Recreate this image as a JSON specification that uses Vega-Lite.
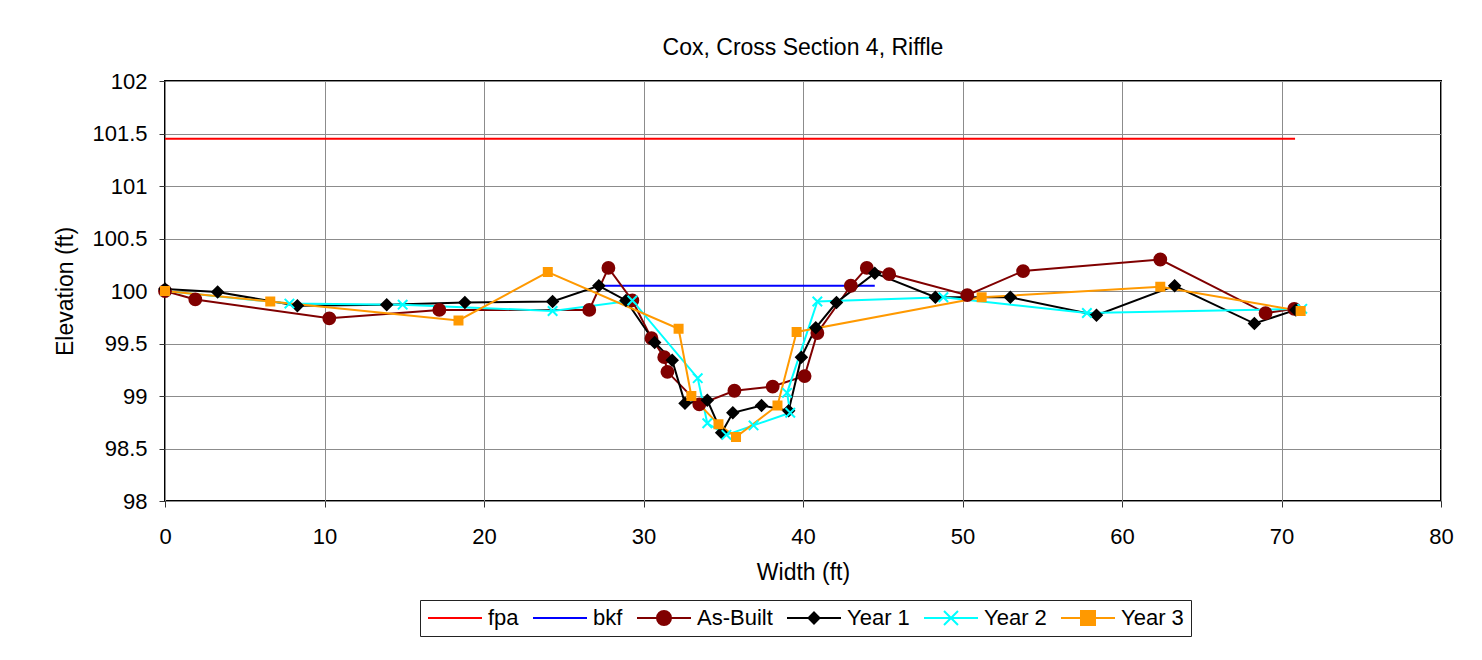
{
  "$schema": "https://vega.github.io/schema/vega-lite/v6.json",
  "autosize": {"type": "none"},
  "padding": {"left": 165, "top": 81, "right": 41, "bottom": 159},
  "width": 1276,
  "height": 420,
  "background": "white",
  "config": {
    "font": "Liberation Sans",
    "view": {"stroke": "black", "strokeWidth": 2},
    "axis": {
      "labelFont": "Liberation Sans",
      "titleFont": "Liberation Sans",
      "labelFontSize": 22,
      "titleFontSize": 23,
      "titleFontWeight": "normal",
      "labelColor": "black",
      "titleColor": "black",
      "gridColor": "#8c8c8c",
      "gridWidth": 1,
      "gridOpacity": 1,
      "tickColor": "#333333",
      "tickSize": 6,
      "tickWidth": 1,
      "domain": false,
      "labelFlush": false
    }
  },
  "title": {
    "text": "Cox, Cross Section 4, Riffle",
    "font": "Liberation Sans",
    "fontSize": 23,
    "fontWeight": "normal",
    "color": "black",
    "anchor": "middle",
    "baseline": "alphabetic",
    "offset": -8
  },
  "data": {
    "values": [
      {"s": "fpa", "i": 0, "x": 0, "y": 101.45},
      {"s": "fpa", "i": 1, "x": 70.85, "y": 101.45},
      {"s": "bkf", "i": 0, "x": 27.5, "y": 100.05},
      {"s": "bkf", "i": 1, "x": 44.5, "y": 100.05},
      {"s": "As-Built", "i": 0, "x": 0, "y": 100.0},
      {"s": "As-Built", "i": 1, "x": 1.9, "y": 99.92},
      {"s": "As-Built", "i": 2, "x": 10.3, "y": 99.74},
      {"s": "As-Built", "i": 3, "x": 17.2, "y": 99.82},
      {"s": "As-Built", "i": 4, "x": 26.6, "y": 99.82},
      {"s": "As-Built", "i": 5, "x": 27.8, "y": 100.22},
      {"s": "As-Built", "i": 6, "x": 29.3, "y": 99.91},
      {"s": "As-Built", "i": 7, "x": 30.5, "y": 99.55},
      {"s": "As-Built", "i": 8, "x": 31.3, "y": 99.37},
      {"s": "As-Built", "i": 9, "x": 31.5, "y": 99.23},
      {"s": "As-Built", "i": 10, "x": 33.5, "y": 98.92},
      {"s": "As-Built", "i": 11, "x": 35.7, "y": 99.05},
      {"s": "As-Built", "i": 12, "x": 38.1, "y": 99.09},
      {"s": "As-Built", "i": 13, "x": 40.1, "y": 99.19},
      {"s": "As-Built", "i": 14, "x": 40.9, "y": 99.6},
      {"s": "As-Built", "i": 15, "x": 43.0, "y": 100.05},
      {"s": "As-Built", "i": 16, "x": 44.0, "y": 100.22},
      {"s": "As-Built", "i": 17, "x": 45.4, "y": 100.16},
      {"s": "As-Built", "i": 18, "x": 50.3, "y": 99.96},
      {"s": "As-Built", "i": 19, "x": 53.8, "y": 100.19},
      {"s": "As-Built", "i": 20, "x": 62.4, "y": 100.3},
      {"s": "As-Built", "i": 21, "x": 69.0, "y": 99.79},
      {"s": "As-Built", "i": 22, "x": 70.8, "y": 99.83},
      {"s": "Year 1", "i": 0, "x": 0, "y": 100.02},
      {"s": "Year 1", "i": 1, "x": 3.3, "y": 99.99},
      {"s": "Year 1", "i": 2, "x": 8.3, "y": 99.86},
      {"s": "Year 1", "i": 3, "x": 13.9, "y": 99.87},
      {"s": "Year 1", "i": 4, "x": 18.8, "y": 99.89},
      {"s": "Year 1", "i": 5, "x": 24.3, "y": 99.9},
      {"s": "Year 1", "i": 6, "x": 27.2, "y": 100.05},
      {"s": "Year 1", "i": 7, "x": 28.9, "y": 99.91},
      {"s": "Year 1", "i": 8, "x": 30.7, "y": 99.51},
      {"s": "Year 1", "i": 9, "x": 31.8, "y": 99.34},
      {"s": "Year 1", "i": 10, "x": 32.6, "y": 98.93},
      {"s": "Year 1", "i": 11, "x": 34.0, "y": 98.96},
      {"s": "Year 1", "i": 12, "x": 34.9, "y": 98.65},
      {"s": "Year 1", "i": 13, "x": 35.6, "y": 98.84},
      {"s": "Year 1", "i": 14, "x": 37.4, "y": 98.91},
      {"s": "Year 1", "i": 15, "x": 39.1, "y": 98.86},
      {"s": "Year 1", "i": 16, "x": 39.9, "y": 99.37},
      {"s": "Year 1", "i": 17, "x": 40.8, "y": 99.65},
      {"s": "Year 1", "i": 18, "x": 42.1, "y": 99.89},
      {"s": "Year 1", "i": 19, "x": 44.5, "y": 100.17},
      {"s": "Year 1", "i": 20, "x": 48.3, "y": 99.94},
      {"s": "Year 1", "i": 21, "x": 53.0, "y": 99.94},
      {"s": "Year 1", "i": 22, "x": 58.4, "y": 99.77},
      {"s": "Year 1", "i": 23, "x": 63.3, "y": 100.05},
      {"s": "Year 1", "i": 24, "x": 68.3, "y": 99.69},
      {"s": "Year 1", "i": 25, "x": 70.9, "y": 99.82},
      {"s": "Year 2", "i": 0, "x": 0, "y": 100.0},
      {"s": "Year 2", "i": 1, "x": 7.8, "y": 99.88},
      {"s": "Year 2", "i": 2, "x": 14.9, "y": 99.87},
      {"s": "Year 2", "i": 3, "x": 24.3, "y": 99.81},
      {"s": "Year 2", "i": 4, "x": 29.3, "y": 99.91},
      {"s": "Year 2", "i": 5, "x": 33.4, "y": 99.17},
      {"s": "Year 2", "i": 6, "x": 34.0, "y": 98.74},
      {"s": "Year 2", "i": 7, "x": 35.2, "y": 98.63},
      {"s": "Year 2", "i": 8, "x": 36.9, "y": 98.72},
      {"s": "Year 2", "i": 9, "x": 39.2, "y": 98.84},
      {"s": "Year 2", "i": 10, "x": 39.0, "y": 99.03},
      {"s": "Year 2", "i": 11, "x": 40.9, "y": 99.9},
      {"s": "Year 2", "i": 12, "x": 48.8, "y": 99.94},
      {"s": "Year 2", "i": 13, "x": 57.8, "y": 99.79},
      {"s": "Year 2", "i": 14, "x": 71.3, "y": 99.83},
      {"s": "Year 3", "i": 0, "x": 0, "y": 100.0},
      {"s": "Year 3", "i": 1, "x": 6.6, "y": 99.9},
      {"s": "Year 3", "i": 2, "x": 18.4, "y": 99.72},
      {"s": "Year 3", "i": 3, "x": 24.0, "y": 100.18},
      {"s": "Year 3", "i": 4, "x": 32.2, "y": 99.64},
      {"s": "Year 3", "i": 5, "x": 33.0, "y": 99.0},
      {"s": "Year 3", "i": 6, "x": 34.7, "y": 98.73},
      {"s": "Year 3", "i": 7, "x": 35.8, "y": 98.61},
      {"s": "Year 3", "i": 8, "x": 38.4, "y": 98.91},
      {"s": "Year 3", "i": 9, "x": 39.6, "y": 99.61},
      {"s": "Year 3", "i": 10, "x": 51.2, "y": 99.94},
      {"s": "Year 3", "i": 11, "x": 62.4, "y": 100.04},
      {"s": "Year 3", "i": 12, "x": 71.2, "y": 99.81}
    ]
  },
  "encoding": {
    "x": {
      "field": "x", "type": "quantitative",
      "scale": {"domain": [0, 80], "nice": false, "zero": false},
      "axis": {"values": [0, 10, 20, 30, 40, 50, 60, 70, 80], "format": "~f", "title": "Width (ft)", "labelPadding": 19, "titlePadding": 14, "grid": true}
    },
    "y": {
      "field": "y", "type": "quantitative",
      "scale": {"domain": [98, 102], "nice": false, "zero": false},
      "axis": {"values": [98, 98.5, 99, 99.5, 100, 100.5, 101, 101.5, 102], "format": "~f", "title": "Elevation (ft)", "labelPadding": 12, "titlePadding": 14, "grid": true}
    }
  },
  "layer": [
    {
      "mark": {"type": "line", "strokeWidth": 2},
      "encoding": {
        "order": {"field": "i", "type": "quantitative"},
        "color": {
          "field": "s", "type": "nominal",
          "scale": {
            "domain": ["fpa", "bkf", "As-Built", "Year 1", "Year 2", "Year 3"],
            "range": ["#FF0000", "#0000FF", "#800000", "#000000", "#00FFFF", "#FF9900"]
          },
          "legend": {
            "title": null,
            "orient": "none",
            "direction": "horizontal",
            "legendX": 255,
            "legendY": 519,
            "padding": 7,
            "strokeColor": "#222222",
            "fillColor": "white",
            "labelFont": "Liberation Sans",
            "labelFontSize": 22,
            "labelColor": "black",
            "labelOffset": 39,
            "columnPadding": 10,
            "symbolSize": 400,
            "symbolStrokeWidth": 2,
            "encode": {
              "symbols": {
                "update": {
                  "shape": {"signal": "datum.value === 'As-Built' ? 'M-1,0H4.4M1,0A0.7,0.7,0,1,0,2.4,0A0.7,0.7,0,1,0,1,0Z' : datum.value === 'Year 1' ? 'M-1,0H4.4M1.7,-0.55L2.25,0L1.7,0.55L1.15,0Z' : datum.value === 'Year 2' ? 'M-1,0H4.4M1,-0.7L2.4,0.7M1,0.7L2.4,-0.7' : datum.value === 'Year 3' ? 'M-1,0H4.4M1,-0.7H2.4V0.7H1Z' : 'M-1,0H4.4'"},
                  "fill": {"scale": "color", "field": "value"},
                  "stroke": {"scale": "color", "field": "value"},
                  "strokeWidth": {"value": 2},
                  "opacity": {"value": 1},
                  "fillOpacity": {"value": 1}
                }
              }
            }
          }
        }
      }
    },
    {
      "transform": [{"filter": "datum.s !== 'fpa' && datum.s !== 'bkf'"}],
      "mark": {"type": "point", "filled": true, "strokeWidth": 2, "opacity": 1},
      "encoding": {
        "fill": {
          "field": "s", "type": "nominal",
          "scale": {"domain": ["As-Built", "Year 1", "Year 2", "Year 3"], "range": ["#800000", "#000000", "#00FFFF", "#FF9900"]},
          "legend": null
        },
        "stroke": {
          "field": "s", "type": "nominal",
          "scale": {"domain": ["As-Built", "Year 1", "Year 2", "Year 3"], "range": ["#800000", "#000000", "#00FFFF", "#FF9900"]},
          "legend": null
        },
        "shape": {
          "field": "s", "type": "nominal",
          "scale": {"domain": ["As-Built", "Year 1", "Year 2", "Year 3"], "range": ["circle", "diamond", "M-1,-1L1,1M-1,1L1,-1", "square"]},
          "legend": null
        },
        "size": {
          "field": "s", "type": "nominal",
          "scale": {"domain": ["As-Built", "Year 1", "Year 2", "Year 3"], "range": [140, 64, 170, 210]},
          "legend": null
        }
      }
    }
  ]
}
